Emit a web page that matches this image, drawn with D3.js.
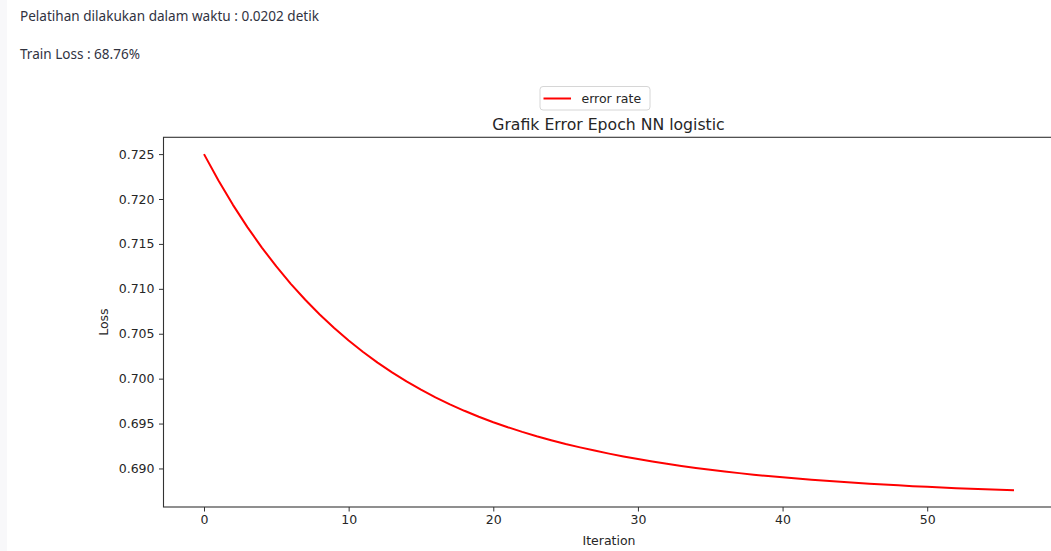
<!DOCTYPE html>
<html>
<head>
<meta charset="utf-8">
<script src="https://cdn.jsdelivr.net/npm/d3@7"></script>
<style>
  html, body { margin: 0; padding: 0; background: #ffffff; }
  svg { display: block; }
</style>
</head>
<body>
<script>
// Loss per training iteration (epoch 0..56)
const iterations = d3.range(0, 57);
const lossValues = [
  0.72500, 0.72205, 0.71935, 0.71687, 0.71459, 0.71249, 0.71056, 0.70878, 0.70714, 0.70563,
  0.70424, 0.70296, 0.70178, 0.70069, 0.69969, 0.69877, 0.69792, 0.69714, 0.69642, 0.69576,
  0.69515, 0.69459, 0.69407, 0.69359, 0.69315, 0.69273, 0.69235, 0.69199, 0.69165, 0.69134,
  0.69105, 0.69077, 0.69052, 0.69028, 0.69006, 0.68985, 0.68966, 0.68948, 0.68931, 0.68915,
  0.68901, 0.68887, 0.68874, 0.68862, 0.68851, 0.68840, 0.68830, 0.68821, 0.68812, 0.68803,
  0.68796, 0.68788, 0.68781, 0.68775, 0.68769, 0.68763, 0.68758
];
const xTicks = [0, 10, 20, 30, 40, 50];
const yTicks = [0.690, 0.695, 0.700, 0.705, 0.710, 0.715, 0.720, 0.725];

const trainingTime = "0.0202";
const trainLoss = "68.76%";
const chartTitle = "Grafik Error Epoch NN logistic";
const seriesName = "error rate";
const xLabel = "Iteration";
const yLabel = "Loss";

const W = 1051, H = 551;
const svg = d3.select("body").append("svg").attr("width", W).attr("height", H);

// page side strip
svg.append("rect").attr("x", 0).attr("y", 0).attr("width", 7).attr("height", H).attr("fill", "#f8f8fa");

// page text
const pageFont = "'Source Sans Pro', 'Noto Sans', sans-serif";
svg.append("text").attr("x", 20).attr("y", 20.5)
  .attr("font-family", pageFont).attr("font-size", 14).attr("fill", "#31333f")
  .attr("textLength", 299).attr("lengthAdjust", "spacingAndGlyphs")
  .text(`Pelatihan dilakukan dalam waktu : ${trainingTime} detik`);
svg.append("text").attr("x", 20).attr("y", 58.5)
  .attr("font-family", pageFont).attr("font-size", 14).attr("fill", "#31333f")
  .attr("textLength", 120).attr("lengthAdjust", "spacingAndGlyphs")
  .text(`Train Loss : ${trainLoss}`);

// plot area
const plot = { left: 163.5, right: 1054.5, top: 137.3, bottom: 507 };
const xExt = d3.extent(iterations), yExt = d3.extent(lossValues);
const xPad = (xExt[1] - xExt[0]) * 0.05, yPad = (yExt[1] - yExt[0]) * 0.05;
const x = d3.scaleLinear().domain([xExt[0] - xPad, xExt[1] + xPad]).range([plot.left, plot.right]);
const y = d3.scaleLinear().domain([yExt[0] - yPad, yExt[1] + yPad]).range([plot.bottom, plot.top]);

const mplFont = "'DejaVu Sans', sans-serif";
const axisColor = "#333333";

// curve
const line = d3.line().x((d, i) => x(iterations[i])).y(d => y(d));
svg.append("path").datum(lossValues)
  .attr("d", line).attr("fill", "none").attr("stroke", "#ff0000")
  .attr("stroke-width", 2).attr("stroke-linejoin", "round").attr("stroke-linecap", "butt");

// axes
const xAxis = d3.axisBottom(x).tickValues(xTicks).tickFormat(d3.format("d")).tickSize(4.5).tickPadding(4);
const yAxis = d3.axisLeft(y).tickValues(yTicks).tickFormat(d3.format(".3f")).tickSize(4.5).tickPadding(4.5);

const gx = svg.append("g").attr("transform", `translate(0,${plot.bottom})`).call(xAxis);
const gy = svg.append("g").attr("transform", `translate(${plot.left},0)`).call(yAxis);
[gx, gy].forEach(g => {
  g.select(".domain").remove();
  g.selectAll(".tick line").attr("stroke", axisColor).attr("stroke-width", 1);
  g.selectAll(".tick text").attr("fill", "#262626").attr("font-family", mplFont).attr("font-size", 12.5);
});

// spines
svg.append("rect")
  .attr("x", plot.left).attr("y", plot.top)
  .attr("width", plot.right - plot.left).attr("height", plot.bottom - plot.top)
  .attr("fill", "none").attr("stroke", axisColor).attr("stroke-width", 1.1);

// title
svg.append("text").attr("x", (plot.left + plot.right) / 2 - 0.5).attr("y", 130)
  .attr("text-anchor", "middle").attr("font-family", mplFont).attr("font-size", 15.7)
  .attr("fill", "#262626").text(chartTitle);

// axis labels
svg.append("text").attr("x", (plot.left + plot.right) / 2).attr("y", 545)
  .attr("text-anchor", "middle").attr("font-family", mplFont).attr("font-size", 12.5)
  .attr("fill", "#262626").text(xLabel);
svg.append("text")
  .attr("transform", `translate(108,${(plot.top + plot.bottom) / 2}) rotate(-90)`)
  .attr("text-anchor", "middle").attr("font-family", mplFont).attr("font-size", 12.5)
  .attr("fill", "#262626").text(yLabel);

// legend
const lg = svg.append("g").attr("transform", "translate(540,86.5)");
lg.append("rect").attr("x", 0).attr("y", 0).attr("width", 110).attr("height", 23.5)
  .attr("rx", 3).attr("fill", "#ffffff").attr("stroke", "#d6d6d6").attr("stroke-width", 1);
lg.append("line").attr("x1", 3.5).attr("x2", 31).attr("y1", 12).attr("y2", 12)
  .attr("stroke", "#ff0000").attr("stroke-width", 2);
lg.append("text").attr("x", 41.5).attr("y", 16.5)
  .attr("font-family", mplFont).attr("font-size", 12.5).attr("fill", "#262626").text(seriesName);
</script>
</body>
</html>
